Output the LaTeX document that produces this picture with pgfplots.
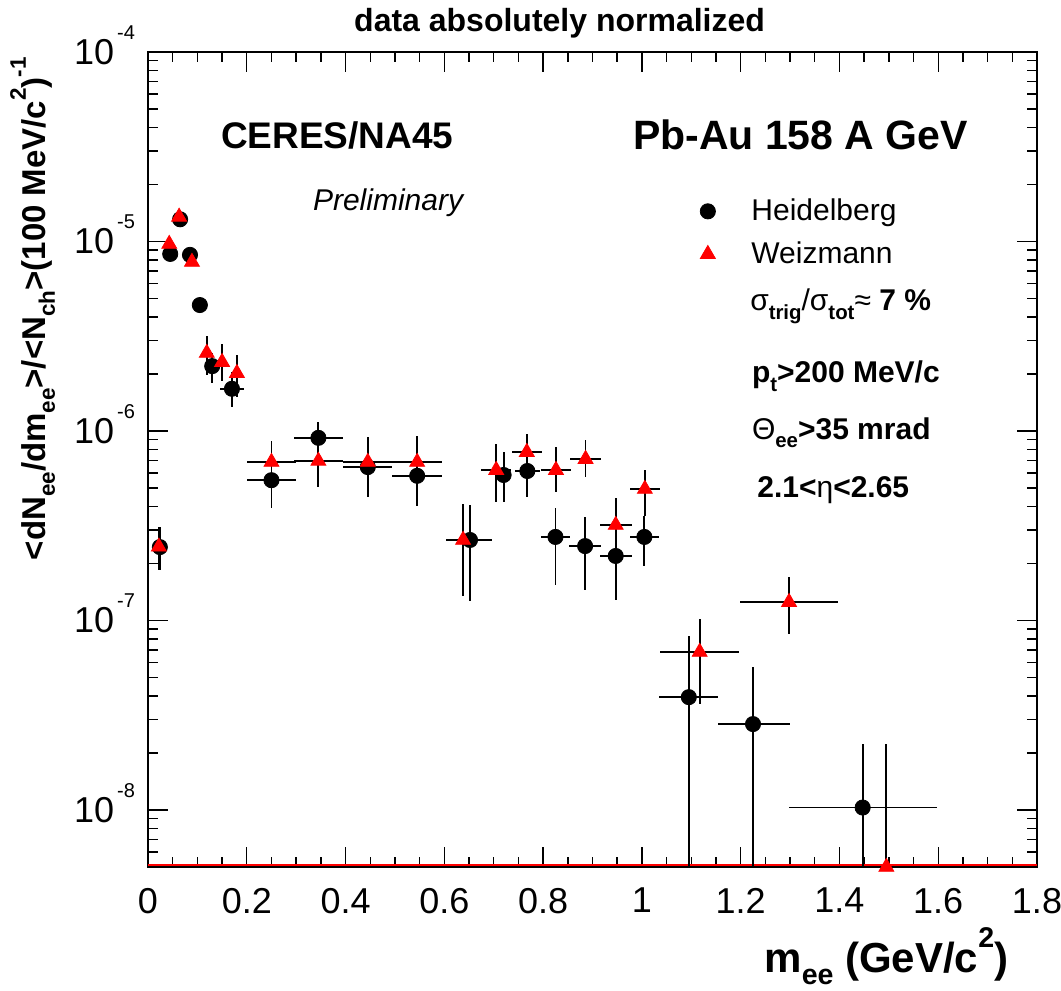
\documentclass[border=0pt]{standalone}
\usepackage{fontspec}
\setmainfont{Liberation Sans}
\usepackage{graphicx}
\usepackage{pgfplots}
\usepackage{pgfplotstable}
\pgfplotsset{compat=1.18}

\newcommand\lo[1]{\raisebox{-0.28em}{\scalebox{0.68}{#1}}}
\newcommand\hi[1]{\raisebox{0.6em}{\scalebox{0.68}{#1}}}
\newcommand\tenexp[1]{10\hspace{1.5pt}\raisebox{12.5pt}[0pt][0pt]{\fontsize{10}{10}\selectfont #1}}

% x  y  x-err minus/plus  y-err minus/plus
\pgfplotstableread{
x     y        xm    xp    ym       yp
0.024 2.44e-7  0.003 0.003 0.59e-7  0.67e-7
0.045 8.6e-6   0.005 0.005 0.4e-6   0.4e-6
0.065 1.31e-5  0.010 0.010 0.6e-6   0.6e-6
0.085 8.5e-6   0.005 0.005 0.4e-6   0.4e-6
0.105 4.62e-6  0.005 0.005 0.45e-6  0.45e-6
0.130 2.2e-6   0.010 0.010 0.41e-6  0.38e-6
0.170 1.67e-6  0.025 0.025 0.33e-6  0.38e-6
0.250 5.5e-7   0.050 0.050 1.6e-7   1.6e-7
0.345 9.2e-7   0.050 0.050 1.9e-7   1.9e-7
0.445 6.45e-7  0.050 0.050 1.9e-7   1.9e-7
0.545 5.8e-7   0.050 0.050 1.8e-7   1.8e-7
0.652 2.66e-7  0.045 0.045 1.4e-7   1.4e-7
0.720 5.86e-7  0.015 0.015 1.64e-7  1.9e-7
0.768 6.15e-7  0.025 0.025 1.65e-7  1.65e-7
0.825 2.76e-7  0.030 0.030 1.22e-7  1.17e-7
0.885 2.47e-7  0.032 0.032 1.02e-7  1.05e-7
0.947 2.19e-7  0.032 0.032 0.91e-7  0.91e-7
1.005 2.76e-7  0.030 0.030 0.82e-7  0.8e-7
1.095 3.94e-8  0.060 0.060 3.44e-8  4.34e-8
1.225 2.84e-8  0.070 0.075 2.34e-8  2.85e-8
1.447 1.03e-8  0.150 0.150 0.53e-8  1.2e-8
}\heid

\pgfplotstableread{
x     y        xm    xp    ym       yp
0.022 2.45e-7  0.003 0.003 0.6e-7   0.66e-7
0.043 9.7e-6   0.005 0.005 0.5e-6   0.5e-6
0.063 1.35e-5  0.008 0.008 0.6e-6   0.6e-6
0.089 7.8e-6   0.005 0.005 0.4e-6   0.4e-6
0.119 2.58e-6  0.010 0.010 0.6e-6   0.6e-6
0.150 2.31e-6  0.010 0.010 0.47e-6  0.57e-6
0.180 2.02e-6  0.010 0.010 0.5e-6   0.5e-6
0.250 6.86e-7  0.050 0.050 2.0e-7   2.0e-7
0.345 6.95e-7  0.050 0.050 1.9e-7   1.9e-7
0.445 6.86e-7  0.050 0.050 2.4e-7   2.4e-7
0.545 6.86e-7  0.050 0.050 2.6e-7   2.6e-7
0.638 2.66e-7  0.035 0.035 1.31e-7  1.46e-7
0.705 6.22e-7  0.030 0.030 2.02e-7  2.33e-7
0.767 7.74e-7  0.030 0.030 1.9e-7   1.9e-7
0.826 6.22e-7  0.030 0.030 1.45e-7  2.0e-7
0.886 7.11e-7  0.032 0.032 1.4e-7   1.8e-7
0.947 3.19e-7  0.032 0.032 1.24e-7  1.24e-7
1.006 4.94e-7  0.030 0.030 1.38e-7  1.28e-7
1.117 6.82e-8  0.080 0.080 3.2e-8   3.4e-8
1.298 1.25e-7  0.100 0.100 4.0e-8   4.5e-8
1.495 5.0e-9   0.000 0.000 0.0      1.73e-8
}\weiz

\begin{document}
\begin{tikzpicture}
\path[use as bounding box] (-74pt,-62pt) rectangle (456.5pt,433.5pt);
\begin{axis}[
  scale only axis, width=444.5pt, height=407.5pt,
  ymode=log, xmin=0, xmax=1.8, ymin=5e-9, ymax=1e-4,
  clip mode=individual,
  xtick={0,0.2,0.4,0.6,0.8,1,1.2,1.4,1.6,1.8},
  minor x tick num=3,
  ytick={1e-8,1e-7,1e-6,1e-5,1e-4},
  yticklabels={\tenexp{-8},\tenexp{-7},\tenexp{-6},\tenexp{-5},\tenexp{-4}},
  minor ytick={6e-9,7e-9,8e-9,9e-9,
    2e-8,3e-8,4e-8,5e-8,6e-8,7e-8,8e-8,9e-8,
    2e-7,3e-7,4e-7,5e-7,6e-7,7e-7,8e-7,9e-7,
    2e-6,3e-6,4e-6,5e-6,6e-6,7e-6,8e-6,9e-6,
    2e-5,3e-5,4e-5,5e-5,6e-5,7e-5,8e-5,9e-5},
  tick align=inside, xtick pos=both, ytick pos=both,
  major tick length=10pt, minor tick length=5pt,
  every tick/.style={black, line width=0.7pt},
  axis line style={line width=1.3pt},
  /pgf/number format/assume math mode=true,
  xticklabel style={font=\fontsize{18}{18}\selectfont, yshift=-7pt},
  yticklabel style={font=\fontsize{18}{18}\selectfont, xshift=-3pt},
  every axis title shift=0pt,
  title={\bfseries data absolutely normalized},
  title style={at={(axis description cs:0.463,1.035)}, anchor=center, inner sep=0pt, font=\fontsize{16}{16}\selectfont},
  xlabel={\bfseries m\lo{ee} (GeV/c\hi{2})},
  xlabel style={at={(axis description cs:0.968,-0.074)}, anchor=north east, inner sep=0pt, font=\fontsize{21}{21}\selectfont},
  ylabel={\bfseries <dN\lo{ee}/dm\lo{ee}>/<N\lo{ch}>(100 MeV/c\hi{2})\hi{-1}},
  ylabel style={at={(axis description cs:-0.104,0.994)}, anchor=south east, inner sep=0pt, font=\fontsize{16.5}{16.5}\selectfont},
  error bars/error bar style={black, line width=0.9pt},
  error bars/error mark=none,
  legend style={draw=none, fill=none, at={(rel axis cs:0.614,0.830)}, anchor=north west,
    font=\fontsize{15}{15}\selectfont, row sep=5pt, column sep=16pt},
  legend cell align=left,
]
\addplot[red, line width=1.3pt, forget plot] coordinates {(0,5.12e-9) (1.8,5.12e-9)};
\addplot[only marks, mark=*, mark size=3.8pt, black,
  error bars/.cd, x dir=both, x explicit, y dir=both, y explicit]
  table[x=x, y=y, x error minus=xm, x error plus=xp, y error minus=ym, y error plus=yp] {\heid};
\addplot[only marks, mark=triangle*, mark size=4.3pt, red,
  error bars/.cd, x dir=both, x explicit, y dir=both, y explicit]
  table[x=x, y=y, x error minus=xm, x error plus=xp, y error minus=ym, y error plus=yp] {\weiz};
\legend{Heidelberg, Weizmann}

\node[font=\fontsize{18.5}{18.5}\selectfont\bfseries] at (rel axis cs:0.213,0.898) {CERES/NA45};
\node[font=\fontsize{20.5}{20.5}\selectfont\bfseries] at (rel axis cs:0.734,0.898) {Pb-Au 158 A GeV};
\node[font=\fontsize{15}{15}\selectfont\itshape] at (rel axis cs:0.270,0.815) {Preliminary};
\node[anchor=west, inner sep=0pt, font=\fontsize{15}{15}\selectfont] at (rel axis cs:0.677,0.688)
  {σ\lo{\bfseries trig}/σ\lo{\bfseries tot}≈ \textbf{7 \%}};
\node[anchor=west, inner sep=0pt, font=\fontsize{15}{15}\selectfont\bfseries] at (rel axis cs:0.679,0.602)
  {p\lo{t}>200 MeV/c};
\node[anchor=west, inner sep=0pt, font=\fontsize{15}{15}\selectfont] at (rel axis cs:0.679,0.533)
  {Θ\lo{\bfseries ee}\textbf{>35 mrad}};
\node[anchor=west, inner sep=0pt, font=\fontsize{15}{15}\selectfont] at (rel axis cs:0.685,0.463)
  {\textbf{2.1<}η\textbf{<2.65}};
\end{axis}
\end{tikzpicture}
\end{document}
